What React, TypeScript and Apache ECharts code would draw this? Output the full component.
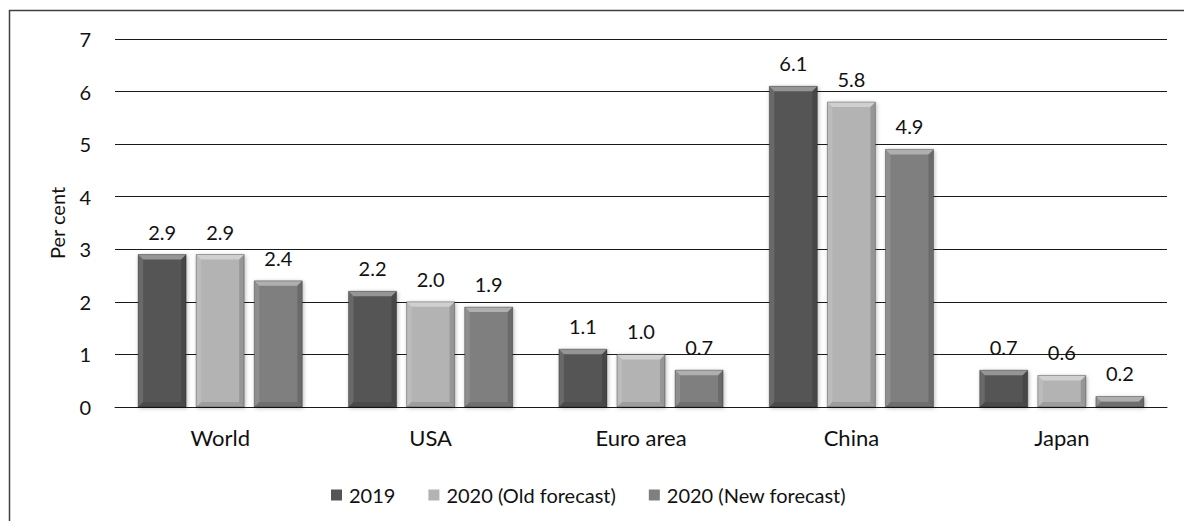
import React, { useEffect, useRef } from "react";
import * as echarts from "echarts";

// Growth by economy, per cent
const categories = ["World", "USA", "Euro area", "China", "Japan"];
const seriesNames = ["2019", "2020 (Old forecast)", "2020 (New forecast)"];
const values2019 = [2.9, 2.2, 1.1, 6.1, 0.7];
const valuesOld2020 = [2.9, 2.0, 1.0, 5.8, 0.6];
const valuesNew2020 = [2.4, 1.9, 0.7, 4.9, 0.2];
const yTicks = [0, 1, 2, 3, 4, 5, 6, 7];

const FONT = "Lato, 'Open Sans', sans-serif";
const BAR_W = 48;
const GAP_RATIO = 0.21;
const BEVEL = 5;

const barColors = ["#555555", "#b3b3b3", "#7f7f7f"];

export default function App() {
  const ref = useRef<HTMLDivElement>(null);

  useEffect(() => {
    if (!ref.current) return;
    const chart = echarts.init(ref.current, undefined, { renderer: "svg" });
    const data = [values2019, valuesOld2020, valuesNew2020];

    // bevel overlay items: [category index, value, series index]
    const bevelData: number[][] = [];
    data.forEach((vals, s) => vals.forEach((v, c) => bevelData.push([c, v, s])));
    const nSeries = data.length;

    const renderBevel = (_params: any, api: any) => {
      const c = api.value(0);
      const v = api.value(1);
      const s = api.value(2);
      const top = api.coord([c, v]);
      const base = api.coord([c, 0]);
      const step = BAR_W * (1 + GAP_RATIO);
      const cx = top[0] + (s - (nSeries - 1) / 2) * step;
      const x0 = cx - BAR_W / 2;
      const x1 = cx + BAR_W / 2;
      const y0 = top[1];
      const y1 = base[1];
      const b = Math.min(BEVEL, (y1 - y0) / 2);
      return {
        type: "group",
        children: [
          {
            type: "polygon",
            shape: { points: [[x0, y0], [x1, y0], [x1 - b, y0 + b], [x0 + b, y0 + b]] },
            style: { fill: "rgba(255,255,255,0.38)" },
          },
          {
            type: "polygon",
            shape: { points: [[x0, y0], [x0 + b, y0 + b], [x0 + b, y1 - b], [x0, y1]] },
            style: { fill: "rgba(255,255,255,0.12)" },
          },
          {
            type: "polygon",
            shape: { points: [[x1, y0], [x1, y1], [x1 - b, y1 - b], [x1 - b, y0 + b]] },
            style: { fill: "rgba(0,0,0,0.16)" },
          },
          {
            type: "polygon",
            shape: { points: [[x0, y1], [x0 + b, y1 - b], [x1 - b, y1 - b], [x1, y1]] },
            style: { fill: "rgba(0,0,0,0.12)" },
          },
          {
            type: "rect",
            shape: { x: x0, y: y0, width: BAR_W, height: y1 - y0 },
            style: { fill: "none", stroke: "rgba(0,0,0,0.3)", lineWidth: 1 },
          },
        ],
      };
    };

    chart.setOption({
      animation: false,
      backgroundColor: "#ffffff",
      textStyle: { fontFamily: FONT },
      graphic: [
        {
          type: "rect",
          shape: { x: 9.5, y: 10.5, width: 1300, height: 600 },
          style: { fill: "none", stroke: "#404040", lineWidth: 1.5 },
          silent: true,
        },
      ],
      grid: { left: 115, right: 17, top: 39, bottom: 114 },
      legend: {
        left: 326,
        top: 480,
        itemWidth: 11,
        itemHeight: 11,
        itemGap: 33,
        icon: "rect",
        textStyle: { fontSize: 20, color: "#111", fontFamily: FONT, padding: [0, 0, 0, 2] },
        data: seriesNames,
      },
      xAxis: {
        type: "category",
        data: categories,
        axisLine: { lineStyle: { color: "#1a1a1a", width: 1 } },
        axisTick: { show: false },
        axisLabel: { fontSize: 22, color: "#111", margin: 19, fontFamily: FONT },
      },
      yAxis: {
        type: "value",
        min: yTicks[0],
        max: yTicks[yTicks.length - 1],
        interval: 1,
        name: "Per cent",
        nameLocation: "middle",
        nameGap: 48,
        nameTextStyle: { fontSize: 20, color: "#111", fontFamily: FONT },
        axisLine: { show: false },
        axisTick: { show: false },
        axisLabel: { fontSize: 20, color: "#111", margin: 24, fontFamily: FONT },
        splitLine: { lineStyle: { color: "#1a1a1a", width: 1 } },
      },
      series: [
        ...data.map((vals, i) => ({
          name: seriesNames[i],
          type: "bar",
          data: vals,
          barWidth: BAR_W,
          barGap: `${GAP_RATIO * 100}%`,
          itemStyle: {
            color: barColors[i],
            shadowColor: "rgba(0,0,0,0.3)",
            shadowBlur: 4,
            shadowOffsetX: 1,
            shadowOffsetY: 1,
          },
          label: {
            show: true,
            position: "top",
            distance: 13,
            fontSize: 20,
            color: "#111",
            fontFamily: FONT,
            formatter: (p: any) => Number(p.value).toFixed(1),
          },
        })),
        {
          name: "bevel",
          type: "custom",
          silent: true,
          z: 5,
          renderItem: renderBevel,
          data: bevelData,
        },
      ],
    });

    return () => chart.dispose();
  }, []);

  return (
    <div
      ref={ref}
      style={{ position: "fixed", left: 0, top: 0, width: 1184, height: 521 }}
    />
  );
}
